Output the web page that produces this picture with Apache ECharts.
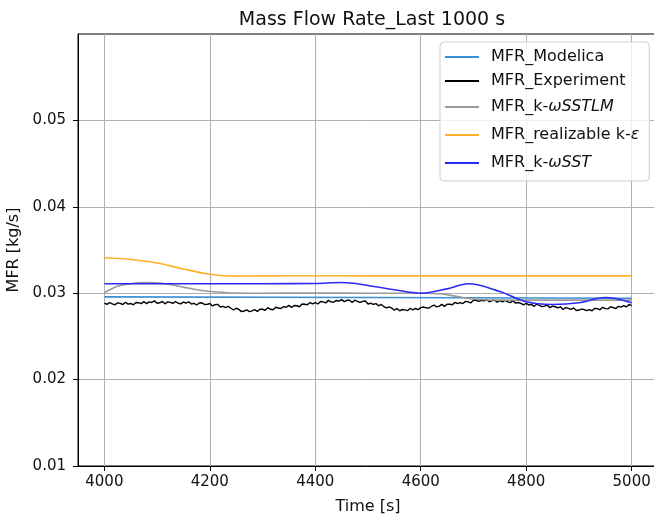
<!DOCTYPE html>
<html>
<head>
<meta charset="utf-8">
<script src="https://cdn.jsdelivr.net/npm/echarts@6/dist/echarts.min.js"></script>
<style>
  html, body { margin: 0; padding: 0; background: #ffffff; }
  #chart { width: 654px; height: 519px; }
</style>
</head>
<body>
<div id="chart"></div>
<script>
// Mass flow rate over the last 1000 s of the run: 1D model, measurement and three CFD turbulence models.

const FONT = 'DejaVu Sans';

// Tick positions
const xTicks = [4000, 4200, 4400, 4600, 4800, 5000];
const yTicks = [0.01, 0.02, 0.03, 0.04, 0.05];

// MFR_Modelica (kg/s)
const modelicaTime = [4000, 4500, 5000];
const modelicaMfr = [0.02958, 0.02950, 0.02942];

// MFR_Experiment: samples every 5 s starting at 4000 s (kg/s)
const expStart = 4000;
const expStep = 5;
const expMfr = [
  0.02885, 0.02871, 0.02892, 0.02877, 0.02866, 0.02888, 0.02882, 0.02869, 0.02895, 0.02874,
  0.02881, 0.02866, 0.02893, 0.02890, 0.02880, 0.02902, 0.02879, 0.02899, 0.02893, 0.02911,
  0.02884, 0.02889, 0.02904, 0.02877, 0.02899, 0.02894, 0.02882, 0.02904, 0.02884, 0.02876,
  0.02898, 0.02885, 0.02901, 0.02874, 0.02884, 0.02863, 0.02886, 0.02889, 0.02869, 0.02871,
  0.02881, 0.02853, 0.02867, 0.02871, 0.02840, 0.02847, 0.02833, 0.02848, 0.02826, 0.02806,
  0.02826, 0.02813, 0.02787, 0.02794, 0.02806, 0.02787, 0.02796, 0.02810, 0.02789, 0.02814,
  0.02814, 0.02803, 0.02832, 0.02814, 0.02809, 0.02837, 0.02829, 0.02823, 0.02844, 0.02837,
  0.02859, 0.02836, 0.02858, 0.02855, 0.02843, 0.02875, 0.02872, 0.02867, 0.02892, 0.02877,
  0.02890, 0.02876, 0.02904, 0.02900, 0.02888, 0.02917, 0.02898, 0.02897, 0.02916, 0.02908,
  0.02926, 0.02903, 0.02918, 0.02918, 0.02894, 0.02919, 0.02904, 0.02893, 0.02906, 0.02910,
  0.02875, 0.02884, 0.02870, 0.02879, 0.02854, 0.02870, 0.02846, 0.02830, 0.02842, 0.02828,
  0.02803, 0.02824, 0.02797, 0.02811, 0.02807, 0.02798, 0.02826, 0.02808, 0.02823, 0.02809,
  0.02833, 0.02840, 0.02831, 0.02827, 0.02846, 0.02863, 0.02841, 0.02850, 0.02870, 0.02848,
  0.02872, 0.02872, 0.02867, 0.02894, 0.02879, 0.02891, 0.02880, 0.02906, 0.02899, 0.02887,
  0.02920, 0.02918, 0.02906, 0.02918, 0.02911, 0.02927, 0.02901, 0.02913, 0.02920, 0.02895,
  0.02914, 0.02900, 0.02916, 0.02900, 0.02891, 0.02913, 0.02885, 0.02892, 0.02883, 0.02864,
  0.02883, 0.02864, 0.02871, 0.02848, 0.02873, 0.02859, 0.02845, 0.02851, 0.02863, 0.02832,
  0.02850, 0.02843, 0.02830, 0.02842, 0.02812, 0.02834, 0.02824, 0.02813, 0.02829, 0.02800,
  0.02805, 0.02816, 0.02811, 0.02799, 0.02810, 0.02797, 0.02825, 0.02821, 0.02808, 0.02837,
  0.02821, 0.02819, 0.02841, 0.02834, 0.02823, 0.02847, 0.02839, 0.02857, 0.02841, 0.02869,
  0.02857
];

// MFR_k-ωSSTLM (kg/s)
const sstlmTime = [4000, 4025, 4050, 4075, 4100, 4125, 4150, 4175, 4200, 4250, 4300, 4400, 4500, 4600, 4640, 4670, 4700, 4730, 4800, 4900, 5000];
const sstlmMfr = [0.03005, 0.03080, 0.03110, 0.03122, 0.03120, 0.03100, 0.03070, 0.03040, 0.03020, 0.03002, 0.03000, 0.03002, 0.03000, 0.03000, 0.02990, 0.02960, 0.02932, 0.02922, 0.02920, 0.02920, 0.02920];

// MFR_realizable k-ε (kg/s)
const rkeTime = [4000, 4050, 4100, 4150, 4200, 4250, 4300, 4400, 4500, 4600, 4700, 4800, 4900, 5000];
const rkeMfr = [0.03410, 0.03390, 0.03350, 0.03280, 0.03220, 0.03198, 0.03200, 0.03202, 0.03201, 0.03200, 0.03200, 0.03200, 0.03200, 0.03200];

// MFR_k-ωSST (kg/s)
const sstTime = [4000, 4100, 4200, 4300, 4400, 4450, 4500, 4550, 4600, 4650, 4690, 4750, 4800, 4850, 4900, 4950, 5000];
const sstMfr = [0.03110, 0.03110, 0.03110, 0.03110, 0.03112, 0.03123, 0.03090, 0.03040, 0.03000, 0.03050, 0.03110, 0.03020, 0.02900, 0.02870, 0.02890, 0.02950, 0.02890];

const zip = (xs, ys) => xs.map((x, i) => [x, ys[i]]);
const expData = expMfr.map((v, i) => [expStart + i * expStep, v]);

const names = {
  modelica: 'MFR_Modelica',
  exp: 'MFR_Experiment',
  sstlm: 'MFR_k-ωSSTLM',
  rke: 'MFR_realizable k-ε',
  sst: 'MFR_k-ωSST'
};

// Entries with Greek symbols are set in italic and sit on a taller line
const legendText = {};
legendText[names.modelica] = '{s| }{p|MFR_Modelica}';
legendText[names.exp] = '{s| }{p|MFR_Experiment}';
legendText[names.sstlm] = '{sm| }{m|MFR_k-}{mi|ωSSTLM}';
legendText[names.rke] = '{sm| }{m|MFR_realizable k-}{mi|ε}';
legendText[names.sst] = '{sm| }{m|MFR_k-}{mi|ωSST}';

const chart = echarts.init(document.getElementById('chart'), null, { renderer: 'canvas' });

const gridLine = { color: '#b0b0b0', width: 1 };

chart.setOption({
  animation: false,
  backgroundColor: '#ffffff',
  textStyle: { fontFamily: FONT },
  title: {
    text: 'Mass Flow Rate_Last 1000 s',
    left: 367,
    textAlign: 'center',
    top: 6,
    textStyle: { fontFamily: FONT, fontSize: 19, fontWeight: 'normal', color: '#111' }
  },
  grid: {
    left: 78, width: 580, top: 34, bottom: 53,
    containLabel: false,
    outerBoundsMode: 'none',
    show: true, borderColor: '#000', borderWidth: 1, backgroundColor: 'transparent'
  },
  legend: {
    orient: 'vertical',
    left: 440,
    top: 42,
    padding: [7, 10, 8, 5],
    itemGap: 8,
    itemWidth: 34,
    itemHeight: 2,
    icon: 'rect',
    backgroundColor: 'rgba(255,255,255,0.8)',
    borderColor: '#cfcfcf',
    borderWidth: 1,
    borderRadius: 4,
    formatter: (name) => legendText[name],
    textStyle: {
      fontFamily: FONT, fontSize: 16, color: '#111',
      rich: {
        s: { width: 7, height: 16, lineHeight: 16, fontSize: 16 },
        sm: { width: 7, height: 20, lineHeight: 20, fontSize: 16 },
        p: { fontFamily: FONT, fontSize: 16, height: 16, lineHeight: 16, color: '#111' },
        m: { fontFamily: FONT, fontSize: 16, height: 20, lineHeight: 20, color: '#111' },
        mi: { fontFamily: FONT, fontSize: 16, height: 20, lineHeight: 20, color: '#111', fontStyle: 'italic' }
      }
    },
    data: [names.modelica, names.exp, names.sstlm, names.rke, names.sst]
  },
  xAxis: {
    type: 'value',
    min: 3950,
    max: 5050,
    name: 'Time [s]',
    nameLocation: 'middle',
    nameGap: 33,
    nameTextStyle: { fontFamily: FONT, fontSize: 16, color: '#111' },
    axisLine: { show: true, onZero: false, lineStyle: { color: '#000', width: 1 } },
    axisTick: { show: true, length: 5, customValues: xTicks, lineStyle: { color: '#000', width: 1 } },
    axisLabel: {
      customValues: xTicks, margin: 9, fontFamily: FONT, fontSize: 15, color: '#111',
      formatter: (v) => String(v)
    },
    splitLine: { show: true, lineStyle: gridLine }
  },
  yAxis: {
    type: 'value',
    min: 0.01,
    max: 0.06,
    name: 'MFR [kg/s]',
    nameLocation: 'middle',
    nameGap: 56,
    nameTextStyle: { fontFamily: FONT, fontSize: 16, color: '#111' },
    axisLine: { show: true, onZero: false, lineStyle: { color: '#000', width: 1 } },
    axisTick: { show: true, length: 5, customValues: yTicks, lineStyle: { color: '#000', width: 1 } },
    axisLabel: {
      customValues: yTicks, margin: 12, fontFamily: FONT, fontSize: 15, color: '#111',
      formatter: (v) => v.toFixed(2)
    },
    splitLine: { show: true, lineStyle: gridLine }
  },
  series: [
    {
      name: names.modelica, type: 'line', data: zip(modelicaTime, modelicaMfr),
      symbol: 'none', lineStyle: { color: '#3d8fd1', width: 1.6 }, itemStyle: { color: '#3d8fd1' }
    },
    {
      name: names.exp, type: 'line', data: expData,
      symbol: 'none', lineStyle: { color: '#000', width: 1.4 }, itemStyle: { color: '#000' }
    },
    {
      name: names.sstlm, type: 'line', data: zip(sstlmTime, sstlmMfr), smooth: 0.35,
      symbol: 'none', lineStyle: { color: '#9a9a9a', width: 1.6 }, itemStyle: { color: '#9a9a9a' }
    },
    {
      name: names.rke, type: 'line', data: zip(rkeTime, rkeMfr), smooth: 0.35,
      symbol: 'none', lineStyle: { color: '#ffb02a', width: 1.6 }, itemStyle: { color: '#ffb02a' }
    },
    {
      name: names.sst, type: 'line', data: zip(sstTime, sstMfr), smooth: 0.35,
      symbol: 'none', lineStyle: { color: '#2b2bf5', width: 1.6 }, itemStyle: { color: '#2b2bf5' }
    }
  ]
});
</script>
</body>
</html>
